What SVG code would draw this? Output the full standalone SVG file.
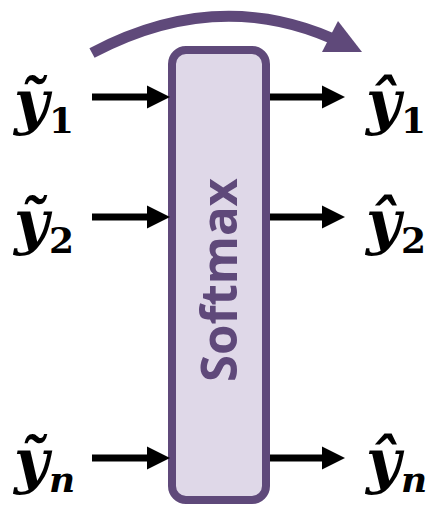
<svg xmlns="http://www.w3.org/2000/svg" width="438" height="506" viewBox="0 0 438 506">
<style>
.lbl{font-family:"DejaVu Serif","Liberation Serif",serif;font-weight:bold;font-style:italic;font-size:60px;fill:#000}
.sub{font-size:36px;font-style:normal}
.subi{font-size:36px;font-style:italic}
.conn{stroke:#000;stroke-width:7;fill:none}
.sm{font-family:"Open Sans","Liberation Sans",sans-serif;font-weight:bold;font-size:50px;fill:#5F497A}
</style>
<defs>
<marker id="ah" markerUnits="userSpaceOnUse" markerWidth="24" markerHeight="24" refX="3" refY="11.5" orient="auto" overflow="visible">
<path d="M0,0 L23,11.5 L0,23 Z" fill="#000"/>
</marker>
</defs>
<g id="softmax">
<rect x="172" y="50" width="94" height="450" rx="14" fill="#DFD8E8" stroke="#5F497A" stroke-width="8"/>
<text class="sm" transform="translate(237,280) rotate(-90)" text-anchor="middle" textLength="204" lengthAdjust="spacingAndGlyphs">Softmax</text>
</g>
<g id="connectors">
<line class="conn" x1="92" y1="97" x2="150" y2="97" marker-end="url(#ah)"/>
<line class="conn" x1="92" y1="217" x2="150" y2="217" marker-end="url(#ah)"/>
<line class="conn" x1="92" y1="458" x2="150" y2="458" marker-end="url(#ah)"/>
<line class="conn" x1="270" y1="97" x2="325" y2="97" marker-end="url(#ah)"/>
<line class="conn" x1="270" y1="217" x2="325" y2="217" marker-end="url(#ah)"/>
<line class="conn" x1="270" y1="458" x2="325" y2="458" marker-end="url(#ah)"/>
<path d="M92,53 Q215,-12 331,38" fill="none" stroke="#5F497A" stroke-width="11"/>
<polygon points="362,52 322,52 338,21" fill="#5F497A"/>
</g>
<g id="in1"><text class="lbl" x="14" y="123">ỹ<tspan class="sub" y="133">1</tspan></text></g>
<g id="in2"><text class="lbl" x="14" y="243">ỹ<tspan class="sub" y="253">2</tspan></text></g>
<g id="inn"><text class="lbl" x="14" y="482">ỹ<tspan class="subi" y="492">n</tspan></text></g>
<g id="out1"><text class="lbl" x="366" y="123">ŷ<tspan class="sub" y="133">1</tspan></text></g>
<g id="out2"><text class="lbl" x="366" y="243">ŷ<tspan class="sub" y="253">2</tspan></text></g>
<g id="outn"><text class="lbl" x="366" y="482">ŷ<tspan class="subi" y="492">n</tspan></text></g>
</svg>
